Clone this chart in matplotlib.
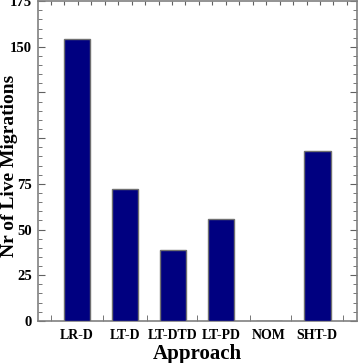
import matplotlib
matplotlib.use("Agg")
import matplotlib.pyplot as plt
from matplotlib.ticker import MultipleLocator, FixedLocator

categories = ["LR-D", "LT-D", "LT-DTD", "LT-PD", "NOM", "SHT-D"]
values = [154, 72, 39, 55.5, 0, 93]
ytick_values = [0, 25, 50, 75, 100, 125, 150, 175]
ytick_labels = ["0", "25", "50", "75", "", "", "150", "175"]

plt.rcParams['font.family'] = ['Liberation Serif', 'DejaVu Serif']
plt.rcParams['font.weight'] = 'bold'

fig = plt.figure(figsize=(3.58, 3.63), dpi=100)
ax = fig.add_axes([0.105, 0.116, 0.892, 0.881])

x = list(range(len(categories)))
ax.bar(x, values, width=0.56, color="#000080", edgecolor="#707070", linewidth=1.0, zorder=3)

ax.set_xlim(-0.82, 5.83)
ax.set_ylim(0, 175)

ax.set_yticks(ytick_values)
ax.set_yticklabels(ytick_labels, fontsize=10.5, fontweight='bold')
ax.yaxis.set_minor_locator(MultipleLocator(5))

ax.set_xticks(x)
ax.set_xticklabels(categories, fontsize=10, fontweight='bold')
ax.tick_params(axis='x', which='major', length=0, pad=6)
ax.xaxis.set_minor_locator(FixedLocator([-0.55, 0.55, 1.45, 2.5, 3.6, 4.45, 5.55]))
ax.tick_params(axis='x', which='minor', direction='in', length=4, color='#606060', top=False, bottom=True)

ax.tick_params(axis='y', which='major', direction='in', length=5, color='#606060', left=True, right=True)
ax.tick_params(axis='y', which='minor', direction='in', length=3, color='#606060', left=True, right=True)
ax.tick_params(axis='y', which='major', pad=4)

# top ticks
secax = ax.secondary_xaxis('top')
secax.set_xticks([-0.82 + 0.28 * i for i in range(1, 24)])
secax.set_xticklabels([])
secax.tick_params(direction='in', length=3, color='#606060')
secax.spines['top'].set_visible(False)

for s in ax.spines.values():
    s.set_color('#808080')
    s.set_linewidth(1.2)

ax.set_ylabel("Nr of Live Migrations", fontsize=14, fontweight='bold')
ax.yaxis.set_label_coords(-0.061, 0.484)
ax.set_xlabel("Approach", fontsize=15, fontweight='bold', labelpad=1)

fig.savefig("out.png", dpi=100)
